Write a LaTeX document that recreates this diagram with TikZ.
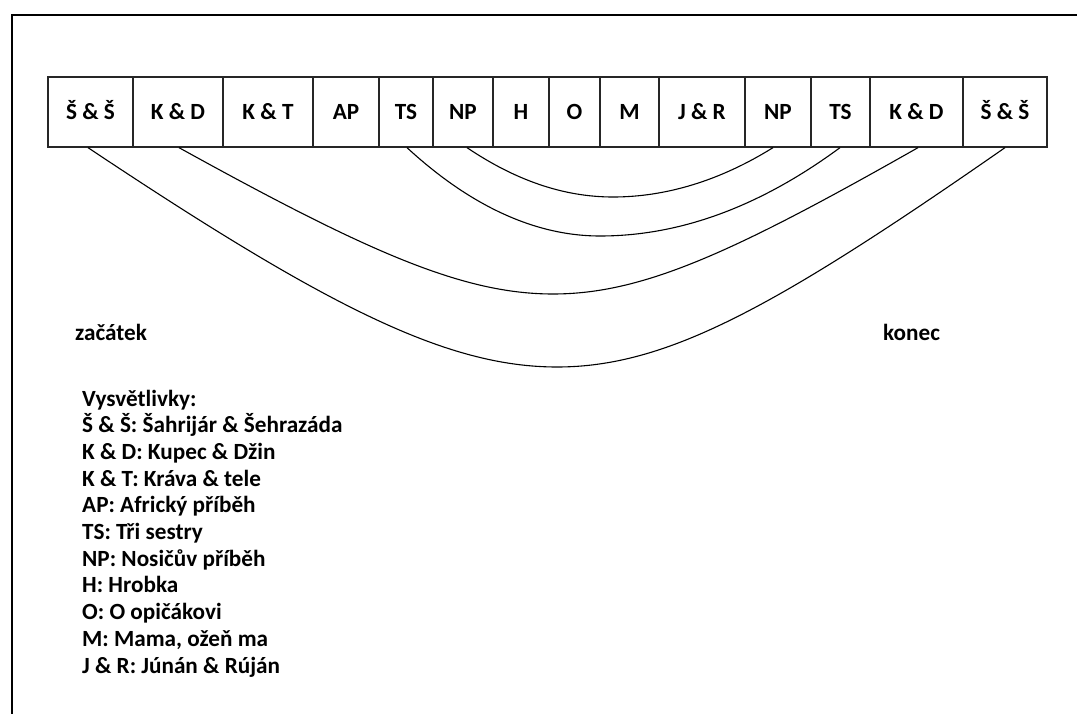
\documentclass[tikz,border=0pt]{standalone}
\usepackage{fontspec}
\setmainfont{Carlito}
\begin{document}
\begin{tikzpicture}[x=1pt,y=-1pt,
  box/.style={draw=black!85,line width=1.3pt,minimum height=70pt,inner sep=0pt,
    font=\fontsize{23.2}{27}\selectfont\bfseries,text height=14.9pt,text depth=0pt},
  lbl/.style={anchor=base west,inner sep=0pt,font=\fontsize{23.2}{27}\selectfont\bfseries},
  arc/.style={draw=black,line width=1.1pt}]
\useasboundingbox (0,0) rectangle (1077,714);
\begin{scope}
\clip (0,0) rectangle (1077,714);
\draw[line width=2.2pt] (12,14.7) rectangle (1100,740);
\end{scope}
% boxes
\node[box,minimum width=85pt] (b1) at (90.5,112) {Š \& Š};
\node[box,minimum width=90pt] (b2) at (178,112) {K \& D};
\node[box,minimum width=90pt] (b3) at (268,112) {K \& T};
\node[box,minimum width=66pt] (b4) at (346,112) {AP};
\node[box,minimum width=54pt] (b5) at (406,112) {TS};
\node[box,minimum width=60pt] (b6) at (463,112) {NP};
\node[box,minimum width=56pt] (b7) at (521,112) {H};
\node[box,minimum width=51pt] (b8) at (574.5,112) {O};
\node[box,minimum width=59pt] (b9) at (629.5,112) {M};
\node[box,minimum width=86pt] (b10) at (702,112) {J \& R};
\node[box,minimum width=66pt] (b11) at (778,112) {NP};
\node[box,minimum width=59pt] (b12) at (840.5,112) {TS};
\node[box,minimum width=93pt] (b13) at (916.5,112) {K \& D};
\node[box,minimum width=84pt] (b14) at (1005,112) {Š \& Š};
% curve bottoms
\coordinate (c1) at (557,367);
\coordinate (c2) at (553,294);
\coordinate (c3) at (600,236);
\coordinate (c4) at (613,197);
% connectors
\draw[arc] ([xshift=-2.5pt]b1.south) .. controls +(240,160) and +(-110,0) .. (c1)
  .. controls +(110,0) and +(-230,160) .. (b14.south);
\draw[arc] ([xshift=1pt]b2.south) .. controls +(190,105) and +(-90,0) .. (c2)
  .. controls +(90,0) and +(-185,105) .. ([xshift=1.5pt]b13.south);
\draw[arc] ([xshift=1pt]b5.south) .. controls +(64,59) and +(-64,0) .. (c3)
  .. controls +(80,0) and +(-80,59) .. ([xshift=-0.5pt]b12.south);
\draw[arc] ([xshift=4pt]b6.south) .. controls +(49,33) and +(-49,0) .. (c4)
  .. controls +(53,0) and +(-53,33) .. ([xshift=-5pt]b11.south);
% labels
\node[lbl] (zac) at (75,341) {začátek};
\node[lbl] (kon) at (883,341) {konec};
\node[lbl] (l0) at (82,406) {Vysvětlivky:};
\node[lbl] (l1) at (82,432.7) {Š \& Š: Šahrijár \& Šehrazáda};
\node[lbl] (l2) at (82,459.4) {K \& D: Kupec \& Džin};
\node[lbl] (l3) at (82,486.1) {K \& T: Kráva \& tele};
\node[lbl] (l4) at (82,512.8) {AP: Africký příběh};
\node[lbl] (l5) at (82,539.5) {TS: Tři sestry};
\node[lbl] (l6) at (82,566.2) {NP: Nosičův příběh};
\node[lbl] (l7) at (82,592.9) {H: Hrobka};
\node[lbl] (l8) at (82,619.6) {O: O opičákovi};
\node[lbl] (l9) at (82,646.3) {M: Mama, ožeň ma};
\node[lbl] (l10) at (82,673) {J \& R: Júnán \& Rúján};
\end{tikzpicture}
\end{document}
